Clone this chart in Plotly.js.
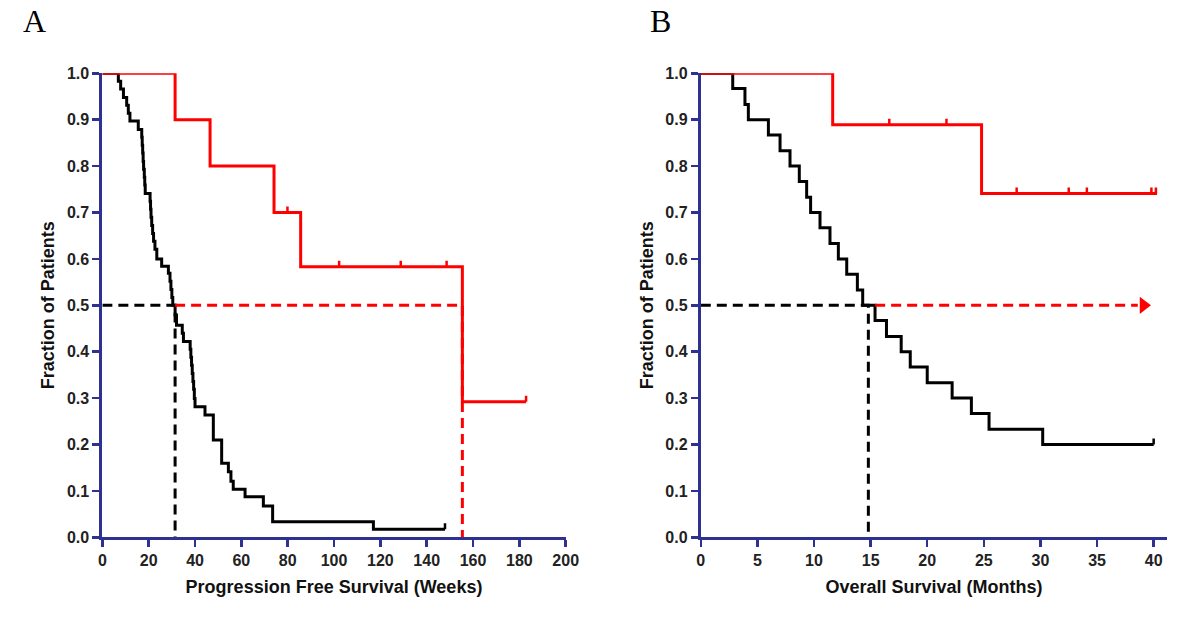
<!DOCTYPE html>
<html>
<head>
<meta charset="utf-8">
<script src="https://cdn.plot.ly/plotly-3.0.1.min.js"></script>
<style>html,body{margin:0;padding:0;background:#fff;}#chart{width:1200px;height:626px;}</style>
</head>
<body>
<div id="chart"></div>
<script>
// ---------- Panel A: Progression free survival (weeks) ----------
const pfsRedTime   = [0, 31.4, 46.5, 74.1, 85.6, 155.4];
const pfsRedSurv   = [1.0, 0.9, 0.8, 0.7, 0.583, 0.292];
const pfsRedEnd    = 182.9;
const pfsRedCensorTime = [79.9, 102.2, 128.8, 148.6, 182.9];
const pfsRedCensorSurv = [0.7, 0.583, 0.583, 0.583, 0.292];

const pfsBlackTime = [0, 6.9, 7.9, 9.1, 10.5, 11.2, 11.9, 15.5, 17.0, 17.2, 17.4, 17.6, 17.8, 18.1, 18.3, 18.5,
                      20.6, 20.8, 21.0, 21.3, 21.7, 22.1, 22.7, 23.5, 25.6, 28.5, 29.2, 29.6, 30.0, 30.4, 31.4, 32.0,
                      34.5, 35.0, 37.9, 38.2, 38.5, 38.8, 39.1, 39.4, 39.7, 40.0, 44.3, 47.9, 51.5, 54.4, 55.5, 56.5,
                      61.6, 69.5, 73.5, 117.0];
const pfsBlackSurv = [1.0, 0.983, 0.966, 0.948, 0.931, 0.914, 0.897, 0.879, 0.862, 0.845, 0.828, 0.810, 0.793, 0.776, 0.759, 0.741,
                      0.724, 0.707, 0.690, 0.672, 0.655, 0.638, 0.621, 0.600, 0.584, 0.569, 0.552, 0.534, 0.517, 0.500, 0.479, 0.457,
                      0.440, 0.422, 0.405, 0.388, 0.371, 0.353, 0.336, 0.319, 0.299, 0.2815, 0.2636, 0.2097, 0.1595, 0.141, 0.121, 0.1034,
                      0.0875, 0.0675, 0.0336, 0.0172];
const pfsBlackEnd  = 147.9;
const pfsBlackCensorTime = [147.9];
const pfsBlackCensorSurv = [0.0172];
const pfsMedians   = [31.4, 155.4];   // black, red

// ---------- Panel B: Overall survival (months) ----------
const osRedTime    = [0, 11.65, 24.8];
const osRedSurv    = [1.0, 0.889, 0.741];
const osRedEnd     = 40.3;
const osRedCensorTime = [11.65, 16.65, 21.7, 27.9, 32.5, 34.1, 39.8, 40.2];
const osRedCensorSurv = [1.0, 0.889, 0.889, 0.741, 0.741, 0.741, 0.741, 0.741];

const osBlackTime  = [0, 2.82, 3.9, 4.2, 5.97, 7.0, 7.88, 8.7, 9.35, 9.7, 10.53, 11.41, 12.15, 12.89, 13.83, 14.3,
                      15.39, 16.4, 17.7, 18.5, 20.0, 22.2, 23.9, 25.46, 30.2];
const osBlackSurv  = [1.0, 0.967, 0.933, 0.9, 0.867, 0.833, 0.8, 0.767, 0.733, 0.7, 0.667, 0.633, 0.6, 0.567, 0.533, 0.5,
                      0.467, 0.433, 0.4, 0.367, 0.333, 0.3, 0.267, 0.233, 0.2];
const osBlackEnd   = 40.0;
const osBlackCensorTime = [40.0];
const osBlackCensorSurv = [0.2];
const osMedianBlack = 14.8;
const osRedArrowStart = 15.4;
const osRedArrowEnd = 38.6;
const osRedArrowTip = 39.1;

// ---------- Axis ticks ----------
const yTicks = [0, 0.1, 0.2, 0.3, 0.4, 0.5, 0.6, 0.7, 0.8, 0.9, 1.0];
const yTickLabels = ['0.0','0.1','0.2','0.3','0.4','0.5','0.6','0.7','0.8','0.9','1.0'];
const xTicksA = [0, 20, 40, 60, 80, 100, 120, 140, 160, 180, 200];
const xTicksB = [0, 5, 10, 15, 20, 25, 30, 35, 40];

const RED = '#ff0000', BLACK = '#000000', AXIS = '#2e3192';
const TICK_H = 0.013;

function stepTrace(t, s, end, color, xa, ya) {
  return {x: t.concat([end]), y: s.concat([s[s.length-1]]), xaxis: xa, yaxis: ya,
          type: 'scatter', mode: 'lines', line: {shape: 'hv', color: color, width: 3},
          cliponaxis: false, hoverinfo: 'skip', showlegend: false};
}
function censorTrace(t, s, color, xa, ya) {
  const x = [], y = [];
  t.forEach((v, i) => { x.push(v, v, null); y.push(s[i], s[i] + TICK_H, null); });
  return {x: x, y: y, xaxis: xa, yaxis: ya, type: 'scatter', mode: 'lines',
          line: {color: color, width: 2.5}, cliponaxis: false, hoverinfo: 'skip', showlegend: false};
}
function dashTrace(x, y, color, xa, ya) {
  return {x: x, y: y, xaxis: xa, yaxis: ya, type: 'scatter', mode: 'lines',
          line: {color: color, width: 3, dash: '10px,6px'}, cliponaxis: false, hoverinfo: 'skip', showlegend: false};
}

const traces = [
  dashTrace([0, pfsMedians[0], pfsMedians[0]], [0.5, 0.5, 0], BLACK, 'x', 'y'),
  stepTrace(pfsBlackTime, pfsBlackSurv, pfsBlackEnd, BLACK, 'x', 'y'),
  censorTrace(pfsBlackCensorTime, pfsBlackCensorSurv, BLACK, 'x', 'y'),
  stepTrace(pfsRedTime, pfsRedSurv, pfsRedEnd, RED, 'x', 'y'),
  censorTrace(pfsRedCensorTime, pfsRedCensorSurv, RED, 'x', 'y'),
  dashTrace([pfsMedians[0], pfsMedians[1], pfsMedians[1]], [0.5, 0.5, 0], RED, 'x', 'y'),

  dashTrace([0, osMedianBlack, osMedianBlack], [0.5, 0.5, 0], BLACK, 'x2', 'y2'),
  stepTrace(osBlackTime, osBlackSurv, osBlackEnd, BLACK, 'x2', 'y2'),
  censorTrace(osBlackCensorTime, osBlackCensorSurv, BLACK, 'x2', 'y2'),
  stepTrace(osRedTime, osRedSurv, osRedEnd, RED, 'x2', 'y2'),
  censorTrace(osRedCensorTime, osRedCensorSurv, RED, 'x2', 'y2'),
  dashTrace([osRedArrowStart, osRedArrowEnd], [0.5, 0.5], RED, 'x2', 'y2'),
  {x: [osRedArrowTip], y: [0.5], xaxis: 'x2', yaxis: 'y2', type: 'scatter', mode: 'markers',
   marker: {symbol: 'triangle-right', size: 15, color: RED}, cliponaxis: false, hoverinfo: 'skip', showlegend: false}
];

const tickFont = {family: 'Arial, "Liberation Sans", sans-serif', size: 16, color: '#222', weight: 'bold'};
const titleFont = {family: 'Arial, "Liberation Sans", sans-serif', size: 18, color: '#111', weight: 'bold'};

function xAxis(domain, range, ticks, title, anchor) {
  return {domain: domain, range: range, anchor: anchor, tickvals: ticks, ticktext: ticks.map(String),
          showgrid: false, zeroline: false, showline: true, linecolor: AXIS, linewidth: 3,
          ticks: 'outside', ticklen: 7, tickwidth: 2.5, tickcolor: AXIS, tickfont: tickFont,
          title: {text: title, font: titleFont, standoff: 12}, fixedrange: true};
}
function yAxis(range, anchor) {
  return {domain: [0.1417, 0.8829], range: range, anchor: anchor, tickvals: yTicks, ticktext: yTickLabels,
          showgrid: false, zeroline: false, showline: true, linecolor: AXIS, linewidth: 3,
          ticks: 'outside', ticklen: 7, tickwidth: 2.5, tickcolor: AXIS, tickfont: tickFont,
          title: {text: 'Fraction of Patients', font: titleFont, standoff: 8}, fixedrange: true};
}

const layout = {
  width: 1200, height: 626,
  margin: {l: 0, r: 0, t: 0, b: 0},
  paper_bgcolor: '#fff', plot_bgcolor: '#fff',
  showlegend: false,
  xaxis: xAxis([0.0853, 0.4714], [0, 200], xTicksA, 'Progression Free Survival (Weeks)', 'y'),
  yaxis: yAxis([0, 1], 'x'),
  xaxis2: xAxis([0.5840, 0.9727], [0, 41.2], xTicksB, 'Overall Survival (Months)', 'y2'),
  yaxis2: yAxis([0, 1], 'x2'),
  annotations: [
    {text: 'A', xref: 'paper', yref: 'paper', x: 0.0288, y: 0.966, xanchor: 'center', yanchor: 'middle',
     showarrow: false, font: {family: '"Liberation Serif", "Times New Roman", serif', size: 32, color: '#000'}},
    {text: 'B', xref: 'paper', yref: 'paper', x: 0.550, y: 0.966, xanchor: 'center', yanchor: 'middle',
     showarrow: false, font: {family: '"Liberation Serif", "Times New Roman", serif', size: 32, color: '#000'}}
  ]
};

Plotly.newPlot('chart', traces, layout, {staticPlot: true, displayModeBar: false});
</script>
</body>
</html>
